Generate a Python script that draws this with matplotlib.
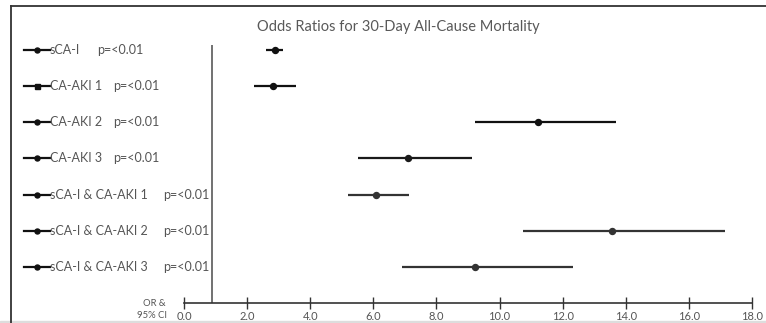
import matplotlib
matplotlib.use("Agg")
import matplotlib.pyplot as plt
from matplotlib.lines import Line2D
from matplotlib.patches import Rectangle
import matplotlib.transforms as mtransforms

# ---- data ----
categories = ["sCA-I", "CA-AKI 1", "CA-AKI 2", "CA-AKI 3",
              "sCA-I & CA-AKI 1", "sCA-I & CA-AKI 2", "sCA-I & CA-AKI 3"]
p_values = ["p=<0.01"] * 7
odds_ratio = [2.88, 2.82, 11.22, 7.10, 6.09, 13.57, 9.22]
ci_low = [2.60, 2.22, 9.22, 5.52, 5.20, 10.74, 6.91]
ci_high = [3.14, 3.55, 13.69, 9.13, 7.13, 17.15, 12.33]
x_ticks = [0, 2, 4, 6, 8, 10, 12, 14, 16, 18]
x_tick_labels = ["0.0", "2.0", "4.0", "6.0", "8.0", "10.0", "12.0", "14.0", "16.0", "18.0"]
ref_line = 0.9
title = "Odds Ratios for 30-Day All-Cause Mortality"
# styles (not data)
markers = ["o", "s", "o", "o", "o", "o", "o"]
colors = ["#111111", "#111111", "#111111", "#1a1a1a", "#333333", "#333333", "#333333"]
p_x_px = [97, 113, 113, 113, 163, 163, 163]

plt.rcParams['font.family'] = ['Lato', 'DejaVu Sans']
W, H = 766, 323
fig = plt.figure(figsize=(W / 100, H / 100), dpi=100)

def fx(px):
    return px / W

def fy(py):
    return 1 - py / H

ax = fig.add_axes([fx(184), fy(303), fx(752) - fx(184), fy(45) - fy(303)])
ax.set_xlim(0, 18)
ax.set_ylim(7, -0.14)

for i, cat in enumerate(categories):
    ax.plot([ci_low[i], ci_high[i]], [i, i], color=colors[i], lw=1.6,
            solid_capstyle='butt', zorder=3)
    ax.plot([odds_ratio[i]], [i], marker='o', ms=4.3, color=colors[i], zorder=4)

ax.axvline(ref_line, color="#666666", lw=1.3, zorder=2)

for s in ["top", "right", "left"]:
    ax.spines[s].set_visible(False)
ax.spines["bottom"].set_color("#333333")
ax.spines["bottom"].set_linewidth(1.2)
ax.set_yticks([])
ax.set_xticks(x_ticks)
ax.set_xticklabels(x_tick_labels)
ax.tick_params(axis='x', direction='inout', length=8, width=1.0, color="#333333",
               labelsize=8, labelcolor="#555555", pad=2)

# row labels with legend-like marker keys
trans = mtransforms.blended_transform_factory(fig.transFigure, ax.transData)
for i, cat in enumerate(categories):
    ln = Line2D([fx(24), fx(50)], [i, i], transform=trans, color="#111111", lw=1.6,
                clip_on=False)
    fig.add_artist(ln)
    mk = Line2D([fx(37)], [i], transform=trans, marker=markers[i], ms=3.6,
                color="#111111", clip_on=False, linestyle="none")
    fig.add_artist(mk)
    fig.text(fx(50), i, cat, transform=trans,
             ha='left', va='center', fontsize=9, color="#555555")
    fig.text(fx(p_x_px[i]), i, p_values[i], transform=trans,
             ha='left', va='center', fontsize=9, color="#555555")

fig.text(fx(166), fy(303), "OR &", ha='right', va='center', fontsize=6.8, color="#555555")
fig.text(fx(167), fy(315), "95% CI", ha='right', va='center', fontsize=6.8, color="#555555")

fig.text(fx(398), fy(31), title, ha='center', va='baseline', fontsize=10.5, color="#595959")

# outer frame (left and top edges)
fig.add_artist(Line2D([fx(11), fx(11)], [fy(6), fy(330)], color="#333333", lw=1.3))
fig.add_artist(Line2D([fx(11), fx(770)], [fy(6), fy(6)], color="#333333", lw=1.3))
fig.add_artist(Rectangle((0, 0), 1, 2 / H, transform=fig.transFigure,
                         color="#dddddd", zorder=0))

fig.savefig("out.png", dpi=100)
